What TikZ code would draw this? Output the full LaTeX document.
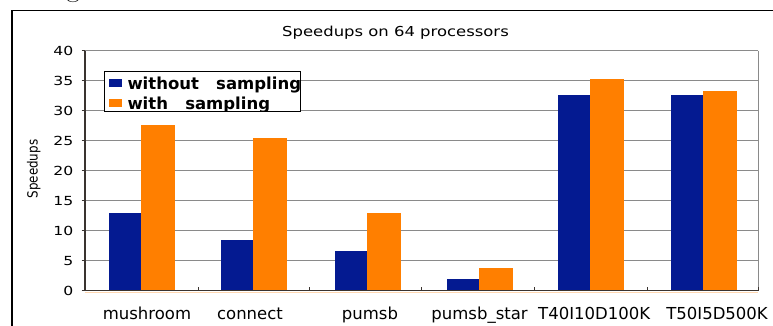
\documentclass[tikz,border=0pt]{standalone}
\usepackage{fontspec}
\usepackage{graphicx}
\newfontfamily\dv{DejaVu Sans}
\definecolor{navyb}{RGB}{4,26,145}
\definecolor{orng}{RGB}{255,127,0}
\definecolor{gridc}{RGB}{138,138,138}
\definecolor{axisc}{RGB}{58,52,48}
\tikzset{
  gridline/.style={draw=gridc, line width=1pt},
  axisline/.style={draw=axisc, line width=1.2pt},
  bluebar/.style={fill=navyb},
  orangebar/.style={fill=orng},
  ticklabel/.style={anchor=east, inner sep=0pt, xscale=1.25, font=\dv\fontsize{12.5}{14}\selectfont},
  catlabel/.style={anchor=base, inner sep=0pt, font=\dv\fontsize{16.5}{18}\selectfont},
  legtext/.style={anchor=base west, inner sep=0pt, font=\dv\bfseries\fontsize{16.5}{18}\selectfont}
}
\begin{document}
\begin{tikzpicture}[x=1pt,y=-1pt]
\useasboundingbox (0,0) rectangle (773,325);
\fill[white] (0,0) rectangle (773,325);
% cut-off glyph from text above
\node[anchor=base, inner sep=0pt, font=\fontsize{30}{30}\selectfont] (gfrag) at (73,-3.5) {g};
% outer frame
\draw[line width=1.4pt] (12,330) |- (780,10.7);
% title
\node[anchor=base, inner sep=0pt, xscale=1.2, font=\dv\fontsize{13.7}{15}\selectfont] (title) at (395.5,36.7) {Speedups on 64 processors};
% grid
\foreach \v in {5,10,...,40}
  \draw[gridline] (85,{290.7-6*\v}) -- (758.3,{290.7-6*\v});
\draw[gridline] (758.3,50.7) -- (758.3,290.7);
% bars
\foreach \c/\b/\o in {140.7/13.0/27.6, 253.3/8.45/25.5, 366.7/6.67/13.0, 479/2.0/3.73, 590/32.67/35.3, 703/32.67/33.33}{
  \fill[bluebar] ({\c-32},290.7) rectangle (\c,{290.7-6*\b});
  \fill[orangebar] (\c,290.7) rectangle ({\c+34},{290.7-6*\o});
}
% axes
\draw[orng!30, line width=1pt] (85,292.4) -- (758.3,292.4);
\draw[axisline] (85,50.7) -- (85,290.7) -- (758.3,290.7);
\foreach \v in {0,5,...,40}{
  \draw[axisline] (81.5,{290.7-6*\v}) -- (85,{290.7-6*\v});
  \node[ticklabel] (t\v) at (73.5,{290.7-6*\v}) {\v};
}
\foreach \x in {198.3,309.3,421.7,534.3,647.3,758.3}
  \draw[axisline] (\x,290.7) -- (\x,286.7);
% axis title
\node[rotate=90, inner sep=0pt, font=\dv\fontsize{14}{16}\selectfont] (ylab) at (33.7,169) {\scalebox{0.85}[1]{Speedups}};
% category labels
\node[catlabel] (c1) at (147,319) {mushroom};
\node[catlabel] (c2) at (250,319) {connect};
\node[catlabel] (c3) at (370,319) {pumsb};
\node[catlabel] (c4) at (479.6,319) {pumsb\_star};
\node[catlabel, anchor=base west] (c5) at (538,319) {T40I10D100K};
\node[catlabel, anchor=base east] (c6) at (768,319) {T50I5D500K};
% legend
\fill[white] (104.3,71.7) rectangle (300.7,111);
\fill[navyb] (109,78.7) rectangle (121.7,87.3);
\fill[orng] (109,99.3) rectangle (121.7,107.3);
\begin{scope}
  \clip (100,60) rectangle (320,111);
  \node[legtext] (l1) at (127.3,89.3) {without\ \ \ sampling};
  \node[legtext] (l2) at (127.3,109.7) {with\ \ \ sampling};
\end{scope}
\draw[line width=1pt] (104.3,71.7) rectangle (300.7,111);
\end{tikzpicture}
\end{document}
